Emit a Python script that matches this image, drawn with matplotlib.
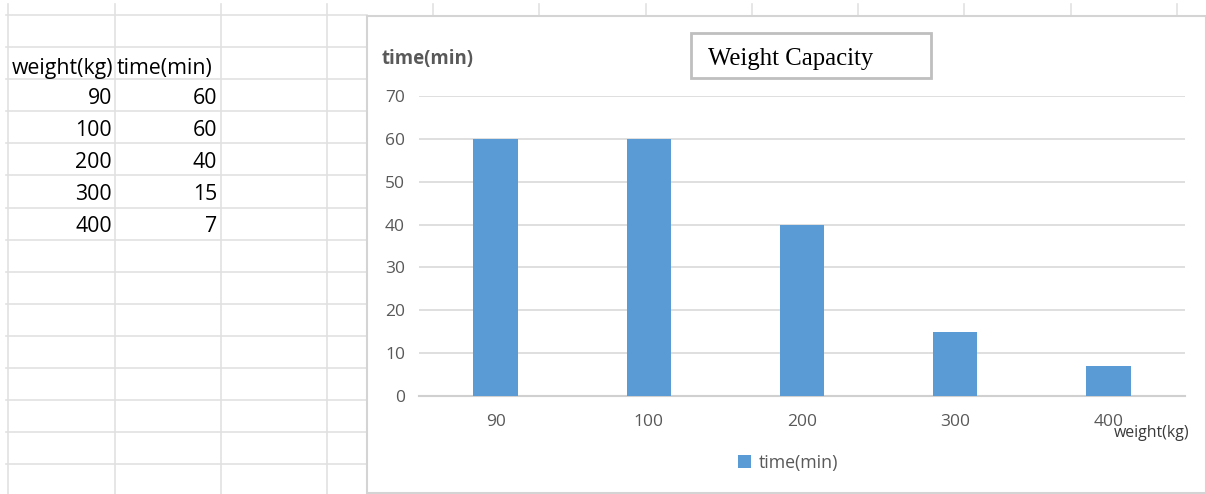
import matplotlib
matplotlib.use("Agg")
import matplotlib.pyplot as plt
from matplotlib.lines import Line2D
from matplotlib.patches import Rectangle

# ---- data ----
weights = ["90", "100", "200", "300", "400"]
times = [60, 60, 40, 15, 7]
yticks = [0, 10, 20, 30, 40, 50, 60, 70]
title = "Weight Capacity"
x_title = "weight(kg)"
y_title = "time(min)"
series_name = "time(min)"

W, H = 1206, 494
FONT = "Open Sans"
fig = plt.figure(figsize=(W / 100, H / 100), dpi=100)
fig.patch.set_facecolor("white")

def fx(x):
    return x / W

def fy(y):
    return 1 - y / H

grid_c = "#E1E1E1"
# spreadsheet grid
row_ys = [15 + 32.1 * i for i in range(15)]
for y in row_ys:
    fig.add_artist(Line2D([fx(6), fx(367)], [fy(y), fy(y)], color=grid_c, lw=1.2, zorder=-2))
for x in [8, 115, 221, 327]:
    fig.add_artist(Line2D([fx(x), fx(x)], [fy(4), fy(494)], color=grid_c, lw=1.2, zorder=-2))
for x in [433, 539, 646, 752, 858, 964, 1071, 1177]:
    fig.add_artist(Line2D([fx(x), fx(x)], [fy(4), fy(16)], color=grid_c, lw=1.2, zorder=-2))

# table text
TS = 15.3
fig.text(fx(12), fy(74), x_title, ha="left", va="baseline", fontsize=TS, family=FONT, color="black")
fig.text(fx(117), fy(74), y_title, ha="left", va="baseline", fontsize=TS, family=FONT, color="black")
for i, (w, t) in enumerate(zip(weights, times)):
    yb = 104 + 32.1 * i
    fig.text(fx(112), fy(yb), w, ha="right", va="baseline", fontsize=TS, family=FONT, color="black")
    fig.text(fx(217), fy(yb), str(t), ha="right", va="baseline", fontsize=TS, family=FONT, color="black")

# chart border
fig.add_artist(Rectangle((fx(367), fy(493)), fx(1206) - fx(367), fy(16) - fy(493),
                         transform=fig.transFigure, fill=True, facecolor="white",
                         edgecolor="#D4D4D4", lw=1.5, zorder=-1))

# plot area
ax = fig.add_axes([fx(419), fy(396), fx(1185) - fx(419), fy(96) - fy(396)])
ax.set_facecolor("none")
bars = ax.bar(range(len(weights)), times, width=0.29, color="#5B9BD5", zorder=3, label=series_name)
ax.set_xlim(-0.5, len(weights) - 0.5)
ax.set_ylim(0, 70)
ax.set_yticks(yticks)
ax.set_xticks(range(len(weights)))
ax.set_xticklabels(weights)
for s in ["top", "right", "left"]:
    ax.spines[s].set_visible(False)
ax.spines["bottom"].set_color("#D0D0D0")
ax.spines["bottom"].set_linewidth(1.5)
ax.yaxis.grid(True, color="#D9D9D9", lw=1.2, zorder=0)
ax.set_axisbelow(True)
ax.tick_params(axis="both", length=0, labelcolor="#595959", labelsize=12.5)
ax.tick_params(axis="y", pad=10)
ax.tick_params(axis="x", pad=13)
for lab in ax.get_xticklabels() + ax.get_yticklabels():
    lab.set_family(FONT)

# axis titles
fig.text(fx(382), fy(64), y_title, ha="left", va="baseline", fontsize=13.4, fontweight="bold",
         family=FONT, color="#595959")
fig.text(fx(1114), fy(437), x_title, ha="left", va="baseline", fontsize=11.4,
         family=FONT, color="#3A3A3A")

# title box
fig.add_artist(Rectangle((fx(691), fy(78)), fx(931) - fx(691), fy(33) - fy(78),
                         transform=fig.transFigure, fill=True, facecolor="white",
                         edgecolor="#BFBFBF", lw=2))
fig.text(fx(708), fy(65), title, ha="left", va="baseline", fontsize=17.8,
         family="Liberation Serif", color="black")

# legend
leg = ax.legend(handles=[bars], loc="center", bbox_to_anchor=(fx(788), fy(463)),
                bbox_transform=fig.transFigure, frameon=False, handlelength=0.72,
                handleheight=0.72, handletextpad=0.45, prop={"family": FONT, "size": 12.8})
for t in leg.get_texts():
    t.set_color("#595959")

fig.savefig("out.png", dpi=100, facecolor="white")
